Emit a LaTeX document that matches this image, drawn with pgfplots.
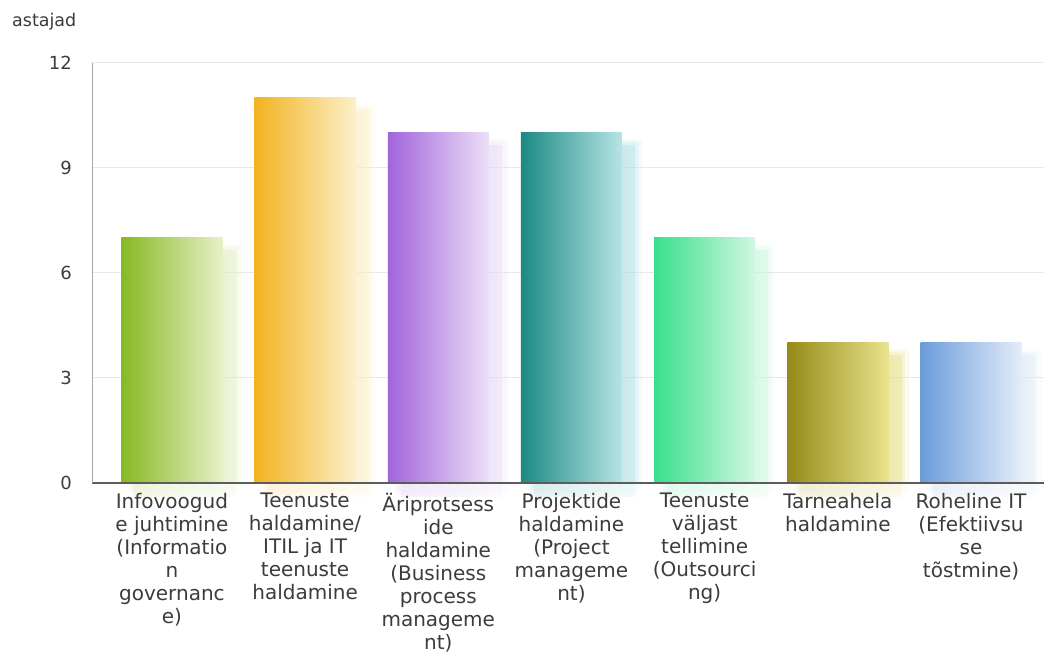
\documentclass[border=0pt]{standalone}
\usepackage{fontspec}
\setmainfont{DejaVu Sans}
\usepackage{pgfplots}
\pgfplotsset{compat=1.18}

% grid behind the bars, axis lines and tick labels in front of them
\pgfplotsset{
  layers/frontlabels/.define layer set={
    axis background,axis grid,axis ticks,pre main,main,axis lines,
    axis tick labels,axis descriptions,axis foreground
  }{
    grid style={/pgfplots/on layer=axis grid},
    tick style={/pgfplots/on layer=axis ticks},
    axis line style={/pgfplots/on layer=axis lines},
    label style={/pgfplots/on layer=axis descriptions},
    legend style={/pgfplots/on layer=axis descriptions},
    title style={/pgfplots/on layer=axis descriptions},
    colorbar style={/pgfplots/on layer=axis descriptions},
    ticklabel style={/pgfplots/on layer=axis tick labels},
    axis background@ style={/pgfplots/on layer=axis background},
    3d box foreground style={/pgfplots/on layer=axis foreground},
  },
}

\definecolor{gridgray}{HTML}{E8E8E8}
\definecolor{yaxisgray}{HTML}{A8A8A8}
\definecolor{xaxisgray}{HTML}{5C5C5C}
\definecolor{labelgray}{HTML}{3C3C3C}

% bar colours: saturated left edge, pale right edge
\definecolor{c1d}{HTML}{86B924}\definecolor{c1l}{HTML}{E6F0C8}
\definecolor{c2d}{HTML}{F2B320}\definecolor{c2l}{HTML}{FCF0CA}
\definecolor{c3d}{HTML}{A264DC}\definecolor{c3l}{HTML}{ECDFF7}
\definecolor{c4d}{HTML}{1A8A82}\definecolor{c4l}{HTML}{B8E4E6}
\definecolor{c5d}{HTML}{38E08A}\definecolor{c5l}{HTML}{D0F7E2}
\definecolor{c6d}{HTML}{958A18}\definecolor{c6l}{HTML}{E9E38C}
\definecolor{c7d}{HTML}{6C9CDC}\definecolor{c7l}{HTML}{E4ECF8}

% one category: soft coloured shadow in three layers, then the shaded bar
% #1 position, #2 value, #3 dark colour, #4 light colour
\newcommand\gbar[4]{%
  \addplot[ybar, draw=none, bar width=115bp, bar shift=13bp, yshift=-7bp,
    left color=#3!55!#4, right color=#4, opacity=0.14] coordinates {(#1,#2)};
  \addplot[ybar, draw=none, bar width=108bp, bar shift=13bp, yshift=-10bp,
    left color=#3!55!#4, right color=#4, opacity=0.25] coordinates {(#1,#2)};
  \addplot[ybar, draw=none, bar width=101bp, bar shift=13bp, yshift=-13bp,
    left color=#3!55!#4, right color=#4, opacity=0.45] coordinates {(#1,#2)};
  \addplot[ybar, draw=none, bar width=101bp, bar shift=0pt,
    left color=#3, right color=#4] coordinates {(#1,#2)};
}

\begin{document}
\begin{tikzpicture}
\begin{axis}[
  set layers=frontlabels,
  scale only axis,
  width=952bp, height=420bp,
  xmin=-0.6, xmax=6.548,
  ymin=0, ymax=12,
  clip=false,
  axis lines*=left,
  x axis line style={draw=xaxisgray, line width=1.2bp},
  y axis line style={draw=yaxisgray, line width=1bp},
  major tick length=0pt,
  ytick={0,3,6,9,12},
  ymajorgrids,
  grid style={draw=gridgray, line width=1bp},
  xtick={0,...,6},
  xticklabels={
    {Infovoogud\\e juhtimine\\(Informatio\\n\\governanc\\e)},
    {Teenuste\\haldamine/\\ITIL ja IT\\teenuste\\haldamine},
    {Äriprotsess\\ide\\haldamine\\(Business\\process\\manageme\\nt)},
    {Projektide\\haldamine\\(Project\\manageme\\nt)},
    {Teenuste\\väljast\\tellimine\\(Outsourci\\ng)},
    {Tarneahela\\haldamine},
    {Roheline IT\\(Efektiivsu\\se\\tõstmine)}},
  xticklabel style={font=\fontsize{20bp}{23bp}\selectfont, align=center,
    text=labelgray, inner sep=0pt, anchor=north, yshift=-10bp},
  yticklabel style={font=\fontsize{18bp}{22bp}\selectfont, text=labelgray,
    inner sep=0pt, anchor=east, xshift=-20bp},
  /pgf/number format/assume math mode=true,
]
\coordinate (o) at (rel axis cs:0,0);
\gbar{0}{7}{c1d}{c1l}
\gbar{1}{11}{c2d}{c2l}
\gbar{2}{10}{c3d}{c3l}
\gbar{3}{10}{c4d}{c4l}
\gbar{4}{7}{c5d}{c5l}
\gbar{5}{4}{c6d}{c6l}
\gbar{6}{4}{c7d}{c7l}
% soften the part of the shadows that falls below the base line
\fill[white, opacity=0.65] (rel axis cs:0,0) rectangle ([yshift=-16bp]rel axis cs:1,0);
\node[anchor=base west, inner sep=0pt, text=labelgray,
  font=\fontsize{17.5bp}{21bp}\selectfont] at ([xshift=-80bp, yshift=456bp]o) {astajad};
\end{axis}
\pgfresetboundingbox
\path (o) ++(-92bp,-174bp) rectangle ++(1044bp,657bp);
\end{tikzpicture}
\end{document}
